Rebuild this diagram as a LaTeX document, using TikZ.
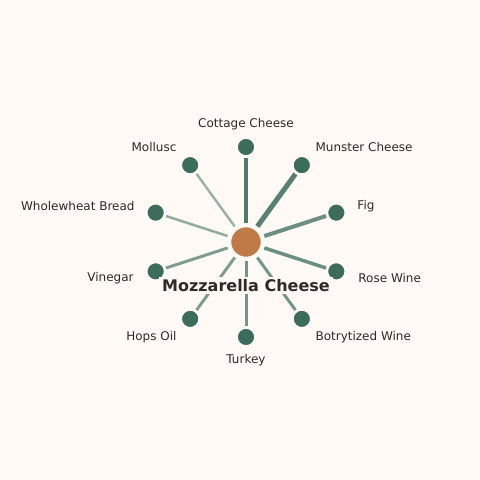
\documentclass[tikz,border=0pt]{standalone}
\usepackage{fontspec}
\setmainfont{DejaVu Sans}
\usepackage{xcolor}
\usetikzlibrary{positioning, backgrounds}
\definecolor{paper}{HTML}{FFFAF6}
\definecolor{leafgreen}{HTML}{3D6B5C}
\definecolor{hubbrown}{HTML}{C07A48}
\definecolor{inktext}{HTML}{2E2A26}
\tikzset{
    hub/.style={
        circle,
        draw=paper,
        line width=1.5pt,
        fill=hubbrown,
        minimum size=31pt,
        inner sep=0pt
    },
    leaf/.style={
        circle,
        draw=paper,
        line width=1.2pt,
        fill=leafgreen,
        minimum size=17.5pt,
        inner sep=0pt
    },
    link/.style={
        draw=leafgreen,
        line cap=butt,
        shorten <=3pt,
        shorten >=1.5pt
    },
    leaflabel/.style={
        font=\fontsize{12}{14}\selectfont,
        text=inktext,
        inner sep=0pt
    },
    title/.style={
        font=\fontsize{16}{19}\selectfont\bfseries,
        text=inktext,
        fill=paper,
        inner xsep=3pt,
        inner ysep=2pt
    }
}
\begin{document}
\begin{tikzpicture}[x=1pt, y=1pt]

\useasboundingbox (0,0) rectangle (480,480);

% Hub
\node[hub] (mozz) at (246,238) {};

% Leaves around the hub
\begin{scope}[shift={(mozz.center)}]
\node[leaf] (cottage) at (90:95) {};
\node[leaf] (munster) at (54:95) {};
\node[leaf] (fig) at (18:95) {};
\node[leaf] (rose) at (-18:95) {};
\node[leaf] (botry) at (-54:95) {};
\node[leaf] (turkey) at (-90:95) {};
\node[leaf] (hops) at (-126:95) {};
\node[leaf] (vinegar) at (-162:95) {};
\node[leaf] (bread) at (162:95) {};
\node[leaf] (mollusc) at (126:95) {};

% Labels
\node[leaflabel, anchor=center] (cottage_t) at (90:118) {Cottage Cheese};
\node[leaflabel, anchor=west] (munster_t) at (54:118) {Munster Cheese};
\node[leaflabel, anchor=west] (fig_t) at (18:117) {Fig};
\node[leaflabel, anchor=west] (rose_t) at (-18:118) {Rose Wine};
\node[leaflabel, anchor=west] (botry_t) at (-54:118) {Botrytized Wine};
\node[leaflabel, anchor=center] (turkey_t) at (-90:118) {Turkey};
\node[leaflabel, anchor=east] (hops_t) at (-126:118) {Hops Oil};
\node[leaflabel, anchor=east] (vinegar_t) at (-162:118) {Vinegar};
\node[leaflabel, anchor=east] (bread_t) at (162:117) {Wholewheat Bread};
\node[leaflabel, anchor=east] (mollusc_t) at (126:118) {Mollusc};
\end{scope}

% Paper and links, behind the nodes
\begin{scope}[on background layer]
\fill[paper] (0,0) rectangle (480,480);
\draw[link, line width=4.5pt, draw opacity=0.9] (mozz) -- (cottage);
\draw[link, line width=5pt, draw opacity=0.85] (mozz) -- (munster);
\draw[link, line width=4pt, draw opacity=0.75] (mozz) -- (fig);
\draw[link, line width=3.5pt, draw opacity=0.75] (mozz) -- (rose);
\draw[link, line width=3pt, draw opacity=0.7] (mozz) -- (botry);
\draw[link, line width=3pt, draw opacity=0.7] (mozz) -- (turkey);
\draw[link, line width=3pt, draw opacity=0.65] (mozz) -- (hops);
\draw[link, line width=3pt, draw opacity=0.65] (mozz) -- (vinegar);
\draw[link, line width=2.5pt, draw opacity=0.55] (mozz) -- (bread);
\draw[link, line width=2.5pt, draw opacity=0.5] (mozz) -- (mollusc);
\end{scope}

% Title under the hub
\node[title, below=19pt of mozz] (mozz_t) {Mozzarella Cheese};

\end{tikzpicture}
\end{document}
